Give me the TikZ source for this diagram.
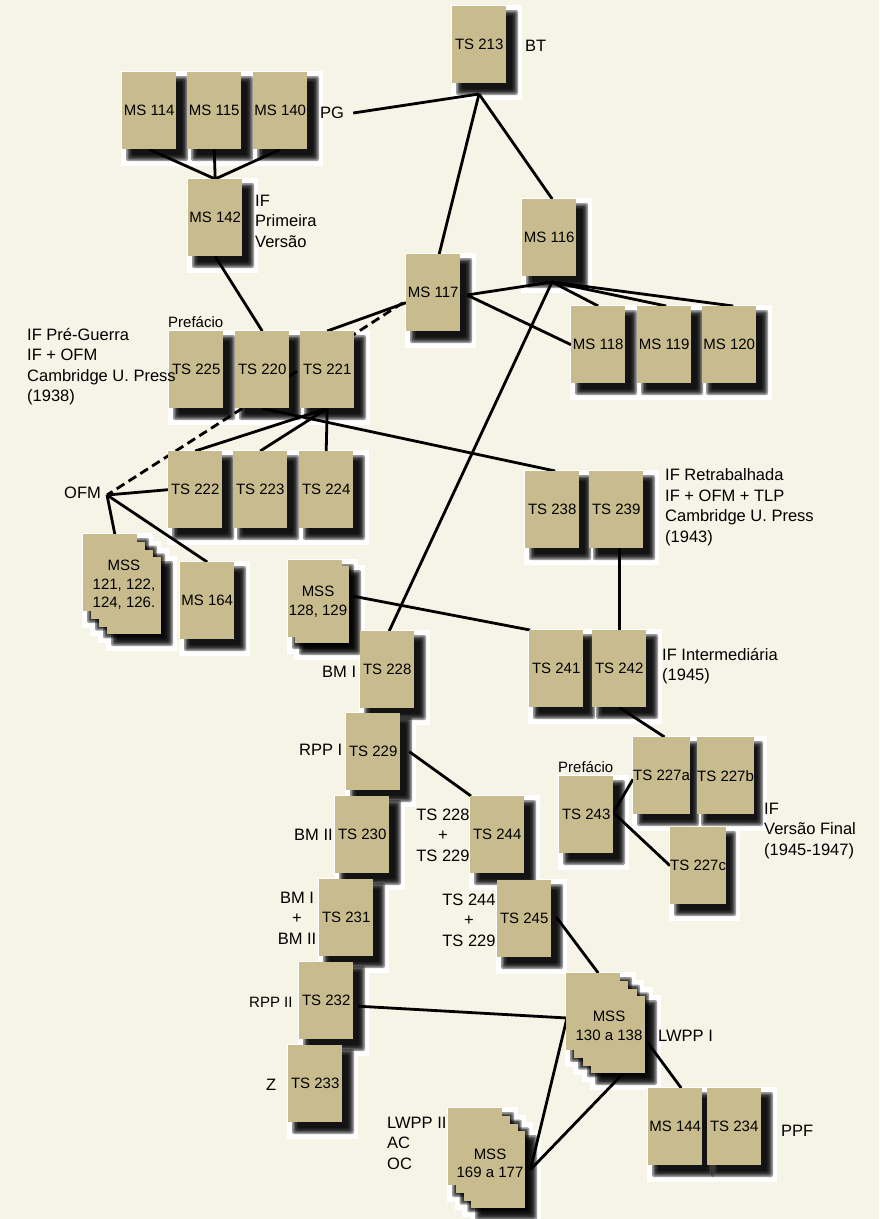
\documentclass[tikz,border=0pt]{standalone}
\usepackage{fontspec}
\setmainfont{Liberation Sans}
\usetikzlibrary{calc}
\definecolor{bgc}{HTML}{F5F4E6}
\definecolor{boxtan}{HTML}{C8BC8F}
\pgfdeclarelayer{halo}
\pgfdeclarelayer{shad}
\pgfdeclarelayer{lines}
\pgfsetlayers{halo,shad,lines,main}
\newcommand\boxfont{\fontsize{15}{18.5}\selectfont}
\newcommand\labfont{\fontsize{16.5}{20.5}\selectfont}
\tikzset{
  docbox/.style={anchor=north west, fill=boxtan, minimum width=54, minimum height=77, inner sep=0, font=\boxfont},
  lab/.style={inner sep=0, font=\labfont, align=left, anchor=west},
  clab/.style={inner sep=0, font=\labfont, align=center},
  stacktext/.style={inner sep=0, font=\boxfont, align=center},
  conn/.style={line width=2.8pt, black},
  dconn/.style={line width=2.8pt, black, dash pattern=on 9pt off 5pt}
}
\newcommand\sheet[4]{%
  \begin{pgfonlayer}{halo}
    \fill[white] (#2-1,#3-1) rectangle (#2+70,#3+94);
  \end{pgfonlayer}
  \begin{pgfonlayer}{shad}
    \foreach \r in {4,2.5,1,-0.5,-2}{
      \fill[black,opacity=0.4,rounded corners=2] (#2+8-\r,#3+8-\r) rectangle (#2+62+\r,#3+85+\r);
    }
  \end{pgfonlayer}
  \node[docbox] (#1) at (#2,#3) {#4};
}
\begin{document}
\begin{tikzpicture}[x=1pt,y=-1pt]
\useasboundingbox (0,0) rectangle (879,1219);
\begin{pgfonlayer}{halo}
  \fill[bgc] (0,0) rectangle (879,1219);
\end{pgfonlayer}

% boxes
\sheet{ts213}{452}{6}{TS 213}
\sheet{ms114}{122}{72}{MS 114}
\sheet{ms115}{187}{72}{MS 115}
\sheet{ms140}{253}{72}{MS 140}
\sheet{ms142}{188}{179}{MS 142}
\sheet{ms116}{522}{199}{MS 116}
\sheet{ms117}{406}{254}{MS 117}
\sheet{ms118}{571}{306}{MS 118}
\sheet{ms119}{637}{306}{MS 119}
\sheet{ms120}{702}{306}{MS 120}
\sheet{ts225}{169}{331}{TS 225}
\sheet{ts220}{235}{331}{TS 220}
\sheet{ts221}{300}{331}{TS 221}
\sheet{ts222}{168}{451}{TS 222}
\sheet{ts223}{233}{451}{TS 223}
\sheet{ts224}{299}{451}{TS 224}
\sheet{ts238}{525}{471}{TS 238}
\sheet{ts239}{589}{471}{TS 239}
% MSS 121 stack
\sheet{mssa4}{107}{557}{}
\sheet{mssa3}{99}{549.3}{}
\sheet{mssa2}{91}{541.7}{}
\sheet{mssa1}{83}{534}{}
\node[stacktext] (mssat) at (124,585) {MSS\\121, 122,\\124, 126.};
\sheet{ms164}{180}{562}{MS 164}
% MSS 128 stack
\sheet{mssb2}{295}{566}{}
\sheet{mssb1}{288}{560}{}
\node[stacktext] (mssbt) at (318,601.5) {MSS\\128, 129};
\sheet{ts228}{360}{631}{TS 228}
\sheet{ts241}{529}{630}{TS 241}
\sheet{ts242}{592}{630}{TS 242}
\sheet{ts229}{346}{713}{TS 229}
\sheet{ts227a}{633}{737}{TS 227a}
\sheet{ts227b}{697}{737}{TS 227b}
\sheet{ts243}{559}{776}{TS 243}
\sheet{ts230}{335}{796}{TS 230}
\sheet{ts244}{470}{796}{TS 244}
\sheet{ts227c}{670}{827}{TS 227c}
\sheet{ts231}{319}{879}{TS 231}
\sheet{ts245}{497}{880}{TS 245}
\sheet{ts232}{299}{962}{TS 232}
% MSS 130 stack
\sheet{mssc4}{591}{996}{}
\sheet{mssc3}{583}{988.3}{}
\sheet{mssc2}{574}{980.7}{}
\sheet{mssc1}{566}{973}{}
\node[stacktext] (mssct) at (609,1026) {MSS\\130 a 138};
\sheet{ts233}{288}{1045}{TS 233}
\sheet{ms144}{648}{1088}{MS 144}
\sheet{ts234}{707}{1088}{TS 234}
% MSS 169 stack
\sheet{mssd4}{471}{1131}{}
\sheet{mssd3}{463.3}{1123.3}{}
\sheet{mssd2}{455.7}{1115.7}{}
\sheet{mssd1}{448}{1108}{}
\node[stacktext] (mssdt) at (490,1163.5) {MSS\\169 a 177};

% labels
\node[lab] (bt) at (525,46) {BT};
\node[lab] (pg) at (320,113) {PG};
\node[lab] (ifpv) at (255,221) {IF\\Primeira\\Versão};
\node[lab, font=\boxfont] (pref1) at (168,322) {Prefácio};
\node[lab] (ifpg) at (27,366.5) {IF Pré-Guerra\\IF + OFM\\Cambridge U. Press\\(1938)};
\node[lab] (ofm) at (64,493) {OFM};
\node[lab] (ifret) at (665,507) {IF Retrabalhada\\IF + OFM + TLP\\Cambridge U. Press\\(1943)};
\node[lab] (bm1) at (322,672) {BM I};
\node[lab] (ifint) at (662,666) {IF Intermediária\\(1945)};
\node[lab] (rpp1) at (299,750) {RPP I};
\node[lab, font=\boxfont] (pref2) at (558,767) {Prefácio};
\node[lab] (ifvf) at (764,831) {IF\\Versão Final\\(1945-1947)};
\node[lab] (bm2) at (294,835) {BM II};
\node[clab] (s228) at (443,835) {TS 228\\+\\TS 229};
\node[clab] (bmbm) at (297,918) {BM I\\+\\BM II};
\node[clab] (s244) at (469,920) {TS 244\\+\\TS 229};
\node[lab, font=\boxfont] (rpp2) at (249,1002) {RPP II};
\node[lab] (z) at (266,1085) {Z};
\node[lab] (lwpp1) at (658,1036) {LWPP I};
\node[lab] (ppf) at (781,1131) {PPF};
\node[lab] (lwpp2) at (387,1143) {LWPP II\\AC\\OC};

% junction points
\coordinate (tsb) at (479,94);
\coordinate (m116b) at (552,282);
\coordinate (m117r) at (467,295);
\coordinate (ofmp) at (107,495);
\coordinate (m130l) at (567,1018);

\begin{pgfonlayer}{lines}
\draw[conn] ([xshift=9]pg.east) -- (tsb);
\draw[conn] (tsb) -- ([xshift=6]ms117.north);
\draw[conn] (tsb) -- ([xshift=3]ms116.north);
\draw[conn] (ms114.south) -- (ms142.north);
\draw[conn] (ms115.south) -- (ms142.north);
\draw[conn] (ms140.south) -- (ms142.north);
\draw[conn] (ms142.south) -- (ts220.north);
\draw[conn] (m116b) -- (m117r);
\draw[conn] (m116b) -- (ms118.north);
\draw[conn] (m116b) -- ([xshift=2]ms119.north);
\draw[conn] (m116b) -- ([xshift=4]ms120.north);
\draw[conn] (m116b) -- ([xshift=2]ts228.north);
\draw[conn] (m117r) -- (ms118.west);
\draw[conn] (ts221.north) -- ([yshift=-10]ms117.west);
\draw[dconn] ([yshift=-6.5]ts220.east) -- ([yshift=-8]ms117.west);
\draw[conn] (ts220.south) -- ([xshift=3]ts238.north);
\draw[conn] (ts221.south) -- (ts222.north);
\draw[conn] (ts221.south) -- (ts223.north);
\draw[conn] (ts221.south) -- (ts224.north);
\draw[dconn] ([xshift=-20]ts220.south) -- (ofmp);
\draw[conn] (ofmp) -- (ts222.west);
\draw[conn] (ofmp) -- ([xshift=5,yshift=-2]mssa1.north);
\draw[conn] (ofmp) -- (ms164.north);
\draw[conn] ([xshift=4,yshift=8.5]mssb2.east) -- ([xshift=1]ts241.north west);
\draw[conn] ([xshift=3]ts239.south) -- (ts242.north);
\draw[conn] (ts242.south) -- ([xshift=3]ts227a.north);
\draw[conn] ([xshift=9]ts229.east) -- ([xshift=1]ts244.north west);
\draw[conn] ([yshift=2]ts243.east) -- ([yshift=-3.5]ts227a.west);
\draw[conn] ([yshift=2]ts243.east) -- (ts227c.west);
\draw[conn] ([xshift=5,yshift=1.5]ts245.east) -- ([xshift=5]mssc1.north);
\draw[conn] ([xshift=5,yshift=-5.5]ts232.east) -- (m130l);
\draw[conn] (m130l) -- ([xshift=5]mssd4.east);
\draw[conn] ([xshift=5]mssc4.south) -- ([xshift=5]mssd4.east);
\draw[conn] ([xshift=2,yshift=-7.5]mssc4.east) -- ([xshift=6]ms144.north);
\end{pgfonlayer}
\end{tikzpicture}
\end{document}
